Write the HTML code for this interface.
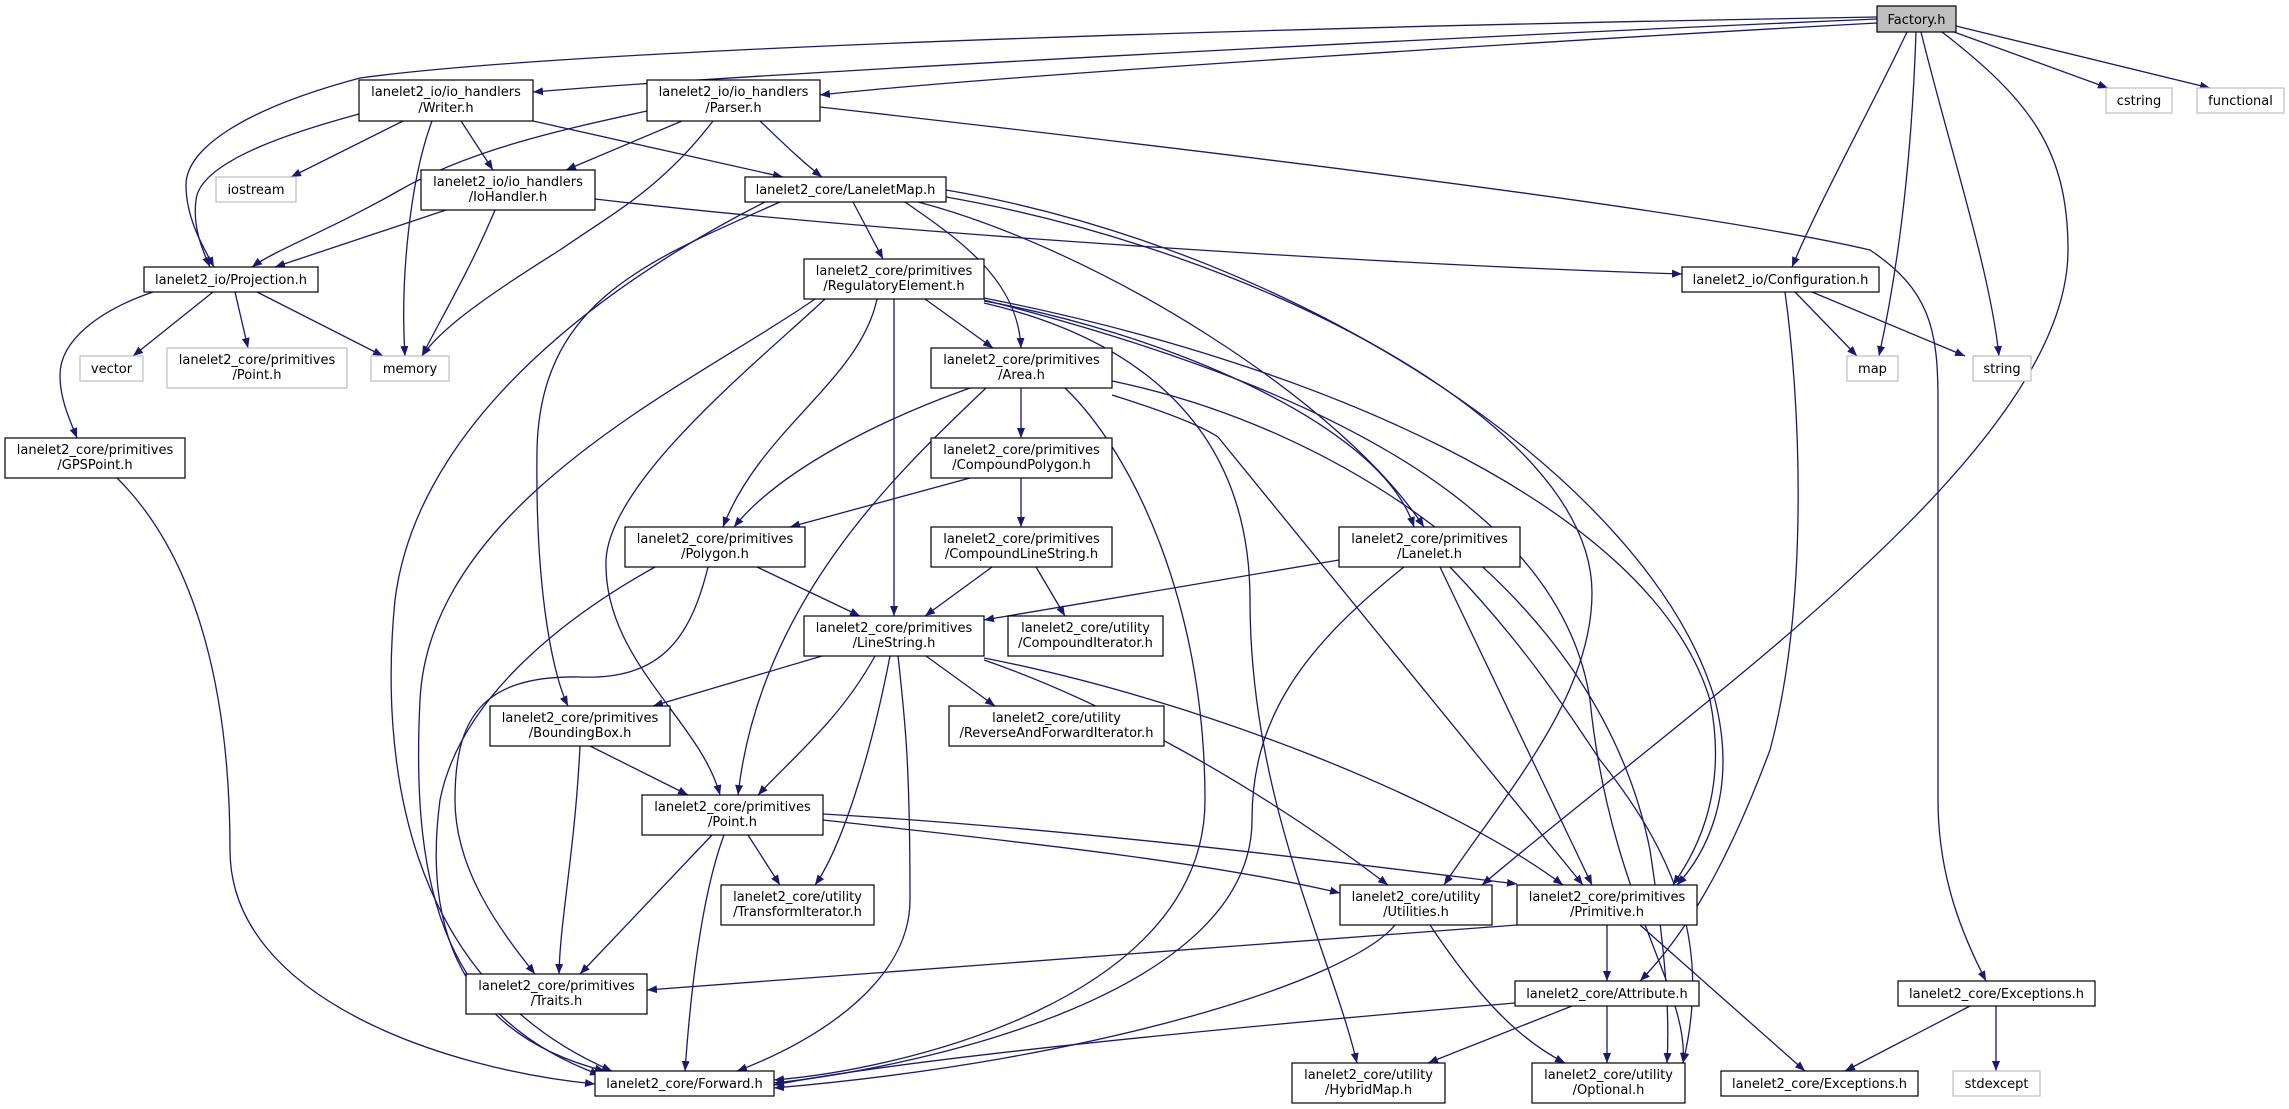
<!DOCTYPE html>
<html><head><meta charset="utf-8"><style>
html,body{margin:0;padding:0;background:#fff;}
svg{display:block;}
text{font-family:"DejaVu Sans","Liberation Sans",sans-serif;font-size:13px;fill:#000;text-anchor:middle;}
.e{fill:none;stroke:#191970;stroke-width:1.3;marker-end:url(#a);}
.n{fill:#fff;stroke:#000;stroke-width:1.2;}
.g{fill:#fff;stroke:#bfbfbf;stroke-width:1.2;}
</style></head><body>
<svg width="2289" height="1109" viewBox="0 0 2289 1109" xmlns="http://www.w3.org/2000/svg">
<defs><marker id="a" markerUnits="userSpaceOnUse" markerWidth="11" markerHeight="8" refX="10" refY="4" orient="auto"><path d="M0,0 L10,4 L0,8 z" fill="#191970"/></marker></defs>
<g>
<!-- Factory -->
<path class="e" d="M1877,19 C1500,35 800,70 533,92"/>
<path class="e" d="M1877,23 C1600,38 1000,75 820,95"/>
<path class="e" d="M1877,17 C1400,25 600,45 360,78 C240,110 186,150 186,185 C186,220 205,250 214,267"/>
<path class="e" d="M1907,32 C1870,110 1820,200 1792,267"/>
<path class="e" d="M1916,32 C1912,150 1900,260 1879,356"/>
<path class="e" d="M1921,32 C1950,150 1990,270 1999,356"/>
<path class="e" d="M1942,32 C2030,100 2068,150 2068,250 C2068,450 1700,700 1482,885"/>
<path class="e" d="M1954,32 L2108,88"/>
<path class="e" d="M1956,26 L2210,88"/>
<!-- Writer -->
<path class="e" d="M359,114 C300,130 200,160 196,200 C192,230 205,255 210,267"/>
<path class="e" d="M403,121 L291,177"/>
<path class="e" d="M432,121 C410,180 400,280 405,356"/>
<path class="e" d="M461,121 L493,170"/>
<path class="e" d="M533,121 L783,177"/>
<!-- Parser -->
<path class="e" d="M647,111 C560,130 470,150 400,190 C330,230 275,250 252,267"/>
<path class="e" d="M682,121 L566,170"/>
<path class="e" d="M713,121 C660,190 610,215 560,250 C480,300 440,330 422,356"/>
<path class="e" d="M760,121 C780,140 800,160 822,177"/>
<path class="e" d="M820,107 C1200,150 1700,210 1870,250 C1930,290 1938,330 1938,400 L1938,800 C1938,880 1965,940 1986,981"/>
<!-- IoHandler -->
<path class="e" d="M446,210 L275,267"/>
<path class="e" d="M495,210 C470,270 440,320 422,356"/>
<path class="e" d="M595,199 C900,235 1400,265 1682,274"/>
<!-- Projection -->
<path class="e" d="M153,292 C100,310 60,340 60,375 C60,400 70,420 77,438"/>
<path class="e" d="M213,292 L133,356"/>
<path class="e" d="M235,292 L248,348"/>
<path class="e" d="M257,292 L383,356"/>
<!-- LaneletMap -->
<path class="e" d="M765,202 C650,260 420,400 395,600 C380,750 400,980 612,1071"/>
<path class="e" d="M780,202 C650,260 540,300 537,450 C535,600 555,680 568,706"/>
<path class="e" d="M853,202 L883,259"/>
<path class="e" d="M905,202 C960,240 1018,280 1021,348"/>
<path class="e" d="M918,202 C1100,250 1340,400 1424,527"/>
<path class="e" d="M946,197 C1250,250 1592,420 1592,593 C1592,700 1500,800 1444,885"/>
<path class="e" d="M946,190 C1300,250 1650,480 1715,700 C1740,800 1700,860 1677,885"/>
<!-- RegElem -->
<path class="e" d="M815,299 C700,380 430,500 420,700 C410,900 450,1020 600,1075"/>
<path class="e" d="M825,299 C760,360 610,480 606,560 C603,660 700,720 720,795"/>
<path class="e" d="M877,299 C860,380 760,430 723,527"/>
<path class="e" d="M894,299 L894,616"/>
<path class="e" d="M925,299 L993,348"/>
<path class="e" d="M984,303 C1100,330 1250,400 1250,600 C1250,800 1330,950 1357,1063"/>
<path class="e" d="M984,301 C1150,330 1380,420 1414,527"/>
<path class="e" d="M984,300 C1300,380 1560,500 1590,700 C1610,900 1690,990 1683,1063"/>
<path class="e" d="M984,298 C1300,360 1650,500 1710,700 C1730,800 1690,860 1673,885"/>
<!-- Area -->
<path class="e" d="M970,388 C880,420 780,470 734,527"/>
<path class="e" d="M986,388 C900,470 760,600 738,795"/>
<path class="e" d="M1021,388 L1021,438"/>
<path class="e" d="M1065,388 C1130,450 1205,600 1205,800 C1205,1000 900,1070 774,1080"/>
<path class="e" d="M1112,395 C1160,410 1200,425 1218,437 L1583,885"/>
<path class="e" d="M1112,381 C1350,430 1600,600 1650,850 C1665,950 1670,1010 1667,1063"/>
<!-- Compound -->
<path class="e" d="M970,478 L790,527"/>
<path class="e" d="M1021,478 L1021,527"/>
<path class="e" d="M992,567 L925,616"/>
<path class="e" d="M1036,567 L1065,616"/>
<!-- Polygon -->
<path class="e" d="M757,567 L860,616"/>
<path class="e" d="M655,567 C560,620 460,700 440,800 C420,950 480,1040 605,1071"/>
<path class="e" d="M708,567 C690,640 660,680 580,677 C480,675 455,720 455,800 C455,870 500,930 535,974"/>
<!-- Lanelet -->
<path class="e" d="M1339,560 L984,620"/>
<path class="e" d="M1404,567 C1300,650 1252,720 1252,820 C1252,1000 900,1070 774,1083"/>
<path class="e" d="M1440,567 L1592,885"/>
<path class="e" d="M1450,567 C1520,640 1560,700 1600,760 C1680,860 1710,950 1683,1063"/>
<!-- LineString -->
<path class="e" d="M822,656 L653,706"/>
<path class="e" d="M875,656 C840,720 790,760 758,795"/>
<path class="e" d="M890,656 C870,760 840,850 815,885"/>
<path class="e" d="M898,656 C905,720 910,760 910,900 C910,980 820,1040 737,1071"/>
<path class="e" d="M926,656 L995,706"/>
<path class="e" d="M984,660 C1100,700 1250,780 1388,885"/>
<path class="e" d="M984,658 C1200,700 1450,800 1563,885"/>
<!-- BoundingBox -->
<path class="e" d="M590,746 L688,795"/>
<path class="e" d="M580,746 C575,850 560,920 559,974"/>
<!-- Point -->
<path class="e" d="M748,835 L780,885"/>
<path class="e" d="M712,835 L580,974"/>
<path class="e" d="M724,835 C700,900 690,1000 685,1071"/>
<path class="e" d="M823,820 C1000,840 1200,860 1340,893"/>
<path class="e" d="M823,814 C1100,830 1400,870 1517,884"/>
<!-- GPSPoint -->
<path class="e" d="M117,478 C200,560 230,700 230,850 C230,1000 450,1070 595,1084"/>
<!-- Utilities / Primitive / Attribute -->
<path class="e" d="M1395,925 C1350,980 1100,1060 774,1088"/>
<path class="e" d="M1430,925 C1480,1000 1520,1040 1565,1063"/>
<path class="e" d="M1517,925 C1200,950 900,970 647,990"/>
<path class="e" d="M1607,925 L1607,981"/>
<path class="e" d="M1640,925 L1805,1071"/>
<path class="e" d="M1515,1003 C1200,1030 900,1060 774,1085"/>
<path class="e" d="M1572,1006 L1428,1063"/>
<path class="e" d="M1607,1006 L1607,1063"/>
<!-- Configuration -->
<path class="e" d="M1795,292 L1857,356"/>
<path class="e" d="M1812,292 L1965,356"/>
<path class="e" d="M1785,292 C1800,400 1810,600 1770,750 C1740,830 1700,920 1640,981"/>
<!-- Exceptions -->
<path class="e" d="M1970,1006 L1845,1071"/>
<path class="e" d="M1996,1006 L1996,1071"/>
</g>
<g>
<rect x="1877" y="6" width="79" height="26" fill="#bfbfbf" stroke="#000" stroke-width="1.2"/><text x="1916.5" y="24">Factory.h</text>
<rect class="n" x="359" y="80" width="174" height="41"/><text x="446" y="96">lanelet2_io/io_handlers</text><text x="446" y="112">/Writer.h</text>
<rect class="n" x="647" y="80" width="173" height="41"/><text x="733.5" y="96">lanelet2_io/io_handlers</text><text x="733.5" y="112">/Parser.h</text>
<rect class="g" x="216" y="177" width="80" height="25"/><text x="256" y="194">iostream</text>
<rect class="n" x="421" y="170" width="174" height="40"/><text x="508" y="186">lanelet2_io/io_handlers</text><text x="508" y="201">/IoHandler.h</text>
<rect class="n" x="745" y="177" width="201" height="25"/><text x="845.5" y="194">lanelet2_core/LaneletMap.h</text>
<rect class="n" x="144" y="267" width="174" height="25"/><text x="231" y="284">lanelet2_io/Projection.h</text>
<rect class="n" x="804" y="259" width="180" height="40"/><text x="894" y="275">lanelet2_core/primitives</text><text x="894" y="290">/RegulatoryElement.h</text>
<rect class="n" x="1682" y="267" width="197" height="25"/><text x="1780.5" y="284">lanelet2_io/Configuration.h</text>
<rect class="g" x="80" y="356" width="63" height="25"/><text x="111.5" y="373">vector</text>
<rect class="g" x="167" y="348" width="180" height="40"/><text x="257" y="364">lanelet2_core/primitives</text><text x="257" y="379">/Point.h</text>
<rect class="g" x="371" y="356" width="78" height="25"/><text x="410" y="373">memory</text>
<rect class="g" x="1847" y="356" width="51" height="25"/><text x="1872.5" y="373">map</text>
<rect class="g" x="1973" y="356" width="58" height="25"/><text x="2002" y="373">string</text>
<rect class="g" x="2106" y="88" width="66" height="25"/><text x="2139" y="105">cstring</text>
<rect class="g" x="2197" y="88" width="87" height="25"/><text x="2240.5" y="105">functional</text>
<rect class="n" x="931" y="348" width="181" height="40"/><text x="1021.5" y="364">lanelet2_core/primitives</text><text x="1021.5" y="379">/Area.h</text>
<rect class="n" x="931" y="438" width="181" height="40"/><text x="1021.5" y="454">lanelet2_core/primitives</text><text x="1021.5" y="469">/CompoundPolygon.h</text>
<rect class="n" x="931" y="527" width="181" height="40"/><text x="1021.5" y="543">lanelet2_core/primitives</text><text x="1021.5" y="558">/CompoundLineString.h</text>
<rect class="n" x="625" y="527" width="180" height="40"/><text x="715" y="543">lanelet2_core/primitives</text><text x="715" y="558">/Polygon.h</text>
<rect class="n" x="1339" y="527" width="181" height="40"/><text x="1429.5" y="543">lanelet2_core/primitives</text><text x="1429.5" y="558">/Lanelet.h</text>
<rect class="n" x="804" y="616" width="180" height="40"/><text x="894" y="632">lanelet2_core/primitives</text><text x="894" y="647">/LineString.h</text>
<rect class="n" x="1008" y="616" width="155" height="40"/><text x="1085.5" y="632">lanelet2_core/utility</text><text x="1085.5" y="647">/CompoundIterator.h</text>
<rect class="n" x="5" y="438" width="180" height="40"/><text x="95" y="454">lanelet2_core/primitives</text><text x="95" y="469">/GPSPoint.h</text>
<rect class="n" x="490" y="706" width="180" height="40"/><text x="580" y="722">lanelet2_core/primitives</text><text x="580" y="737">/BoundingBox.h</text>
<rect class="n" x="949" y="706" width="215" height="40"/><text x="1056.5" y="722">lanelet2_core/utility</text><text x="1056.5" y="737">/ReverseAndForwardIterator.h</text>
<rect class="n" x="642" y="795" width="181" height="40"/><text x="732.5" y="811">lanelet2_core/primitives</text><text x="732.5" y="826">/Point.h</text>
<rect class="n" x="721" y="885" width="153" height="40"/><text x="797.5" y="901">lanelet2_core/utility</text><text x="797.5" y="916">/TransformIterator.h</text>
<rect class="n" x="1340" y="885" width="152" height="40"/><text x="1416" y="901">lanelet2_core/utility</text><text x="1416" y="916">/Utilities.h</text>
<rect class="n" x="1517" y="885" width="180" height="40"/><text x="1607" y="901">lanelet2_core/primitives</text><text x="1607" y="916">/Primitive.h</text>
<rect class="n" x="466" y="974" width="181" height="40"/><text x="556.5" y="990">lanelet2_core/primitives</text><text x="556.5" y="1005">/Traits.h</text>
<rect class="n" x="1515" y="981" width="184" height="25"/><text x="1607" y="998">lanelet2_core/Attribute.h</text>
<rect class="n" x="1898" y="981" width="197" height="25"/><text x="1996.5" y="998">lanelet2_core/Exceptions.h</text>
<rect class="n" x="595" y="1071" width="179" height="25"/><text x="684.5" y="1088">lanelet2_core/Forward.h</text>
<rect class="n" x="1292" y="1063" width="153" height="40"/><text x="1368.5" y="1079">lanelet2_core/utility</text><text x="1368.5" y="1094">/HybridMap.h</text>
<rect class="n" x="1532" y="1063" width="153" height="40"/><text x="1608.5" y="1079">lanelet2_core/utility</text><text x="1608.5" y="1094">/Optional.h</text>
<rect class="n" x="1721" y="1071" width="197" height="25"/><text x="1819.5" y="1088">lanelet2_core/Exceptions.h</text>
<rect class="g" x="1953" y="1071" width="87" height="25"/><text x="1996.5" y="1088">stdexcept</text>
</g>
</svg>
</body></html>
